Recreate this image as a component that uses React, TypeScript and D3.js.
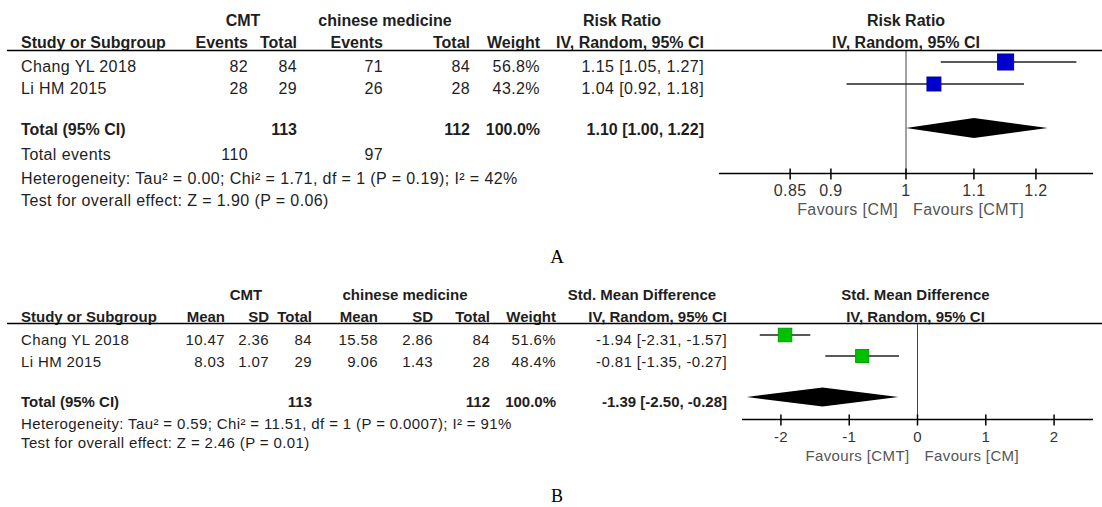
import React from "react";
import * as d3 from "d3";

// ---- panel A : Risk Ratio ----
const studiesA = ["Chang YL 2018", "Li HM 2015"];
const cmtEventsA = [82, 28];
const cmtTotalA = [84, 29];
const cmEventsA = [71, 26];
const cmTotalA = [84, 28];
const weightA = [56.8, 43.2];
const rrA = [1.15, 1.04];
const rrLowA = [1.05, 0.92];
const rrHighA = [1.27, 1.18];
const totalA = { cmt: 113, cm: 112, est: 1.1, low: 1.0, high: 1.22, label: "1.10 [1.00, 1.22]" };
const totalEventsA = [110, 97];
const ticksA = [0.85, 0.9, 1, 1.1, 1.2];
const hetA = "Heterogeneity: Tau\u00b2 = 0.00; Chi\u00b2 = 1.71, df = 1 (P = 0.19); I\u00b2 = 42%";
const testA = "Test for overall effect: Z = 1.90 (P = 0.06)";

// ---- panel B : Std. Mean Difference ----
const studiesB = ["Chang YL 2018", "Li HM 2015"];
const cmtMeanB = [10.47, 8.03];
const cmtSdB = [2.36, 1.07];
const cmtTotalB = [84, 29];
const cmMeanB = [15.58, 9.06];
const cmSdB = [2.86, 1.43];
const cmTotalB = [84, 28];
const weightB = [51.6, 48.4];
const smdB = [-1.94, -0.81];
const smdLowB = [-2.31, -1.35];
const smdHighB = [-1.57, -0.27];
const totalB = { cmt: 113, cm: 112, est: -1.39, low: -2.5, high: -0.28, label: "-1.39 [-2.50, -0.28]" };
const ticksB = [-2, -1, 0, 1, 2];
const hetB = "Heterogeneity: Tau\u00b2 = 0.59; Chi\u00b2 = 11.51, df = 1 (P = 0.0007); I\u00b2 = 91%";
const testB = "Test for overall effect: Z = 2.46 (P = 0.01)";

const FONT = "'Liberation Sans', Arial, sans-serif";
const INK = "#1e1e1e";

const T = ({ x, y, anchor = "start", bold = false, fill = INK, size = 16, children }: any) => (
  <text
    x={x}
    y={y}
    textAnchor={anchor}
    fontFamily={FONT}
    fontSize={size}
    fontWeight={bold ? "bold" : "normal"}
    letterSpacing={bold ? 0 : size * 0.025}
    fill={fill}
  >
    {children}
  </text>
);

const f2 = (v: number) => v.toFixed(2);
const ci = (e: number, l: number, h: number) => `${f2(e)} [${f2(l)}, ${f2(h)}]`;

const Diamond = ({ x, lo, hi, est, y, h }: any) => (
  <path
    d={`M${x(lo)},${y} L${x(est)},${y - h} L${x(hi)},${y} L${x(est)},${y + h} Z`}
    fill="#000"
  />
);

const Axis = ({ x, ticks, y, fmt, top, nullV, leftLabel, rightLabel, size }: any) => {
  const [r0, r1] = x.range();
  const x0 = x(nullV);
  return (
    <g>
      <line x1={x0} x2={x0} y1={top} y2={y} stroke="#444" strokeWidth={1} />
      <line x1={r0} x2={r1} y1={y} y2={y} stroke="#000" strokeWidth={1.5} />
      {ticks.map((t: number) => (
        <g key={t}>
          <line x1={x(t)} x2={x(t)} y1={y - 5} y2={y + 6} stroke="#000" strokeWidth={1.5} />
          <T x={x(t)} y={y + 22} anchor="middle" fill="#333" size={size}>{fmt(t)}</T>
        </g>
      ))}
      <T x={x0 - 8} y={y + 41} anchor="end" fill="#555" size={size}>{leftLabel}</T>
      <T x={x0 + 7} y={y + 41} fill="#555" size={size}>{rightLabel}</T>
    </g>
  );
};

export default function App() {
  // panel A scales
  const xA = d3.scaleLog().domain([1 / 1.3, 1.3]).range([719, 1093]);
  const sizeA = d3.scaleSqrt().domain([0, d3.max(weightA) as number]).range([0, 16]);
  const rowA = [62, 84];
  const baseA = [72, 94];

  // panel B scales
  const xB = d3.scaleLinear().domain([-2.57, 2.57]).range([742, 1093]);
  const sizeB = d3.scaleSqrt().domain([0, d3.max(weightB) as number]).range([0, 13.5]);
  const rowB = [335, 356];
  const baseB = [345, 367];
  const sB = 15;

  const colA = { ev1: 248, tot1: 297, ev2: 383, tot2: 470, w: 540, ci: 704 };
  const colB = { m1: 225, sd1: 269, tot1: 312, m2: 378, sd2: 433, tot2: 490, w: 556, ci: 727 };

  return (
    <svg
      width={1102}
      height={507}
      style={{ position: "absolute", left: 0, top: 0, background: "#fff" }}
    >
      {/* ================= A ================= */}
      <T x={243} y={26} anchor="middle" bold>CMT</T>
      <T x={385} y={26} anchor="middle" bold>chinese medicine</T>
      <T x={622} y={26} anchor="middle" bold>Risk Ratio</T>
      <T x={xA(1)} y={26} anchor="middle" bold>Risk Ratio</T>
      <T x={21} y={48} bold>Study or Subgroup</T>
      <T x={colA.ev1} y={48} anchor="end" bold>Events</T>
      <T x={colA.tot1} y={48} anchor="end" bold>Total</T>
      <T x={colA.ev2} y={48} anchor="end" bold>Events</T>
      <T x={colA.tot2} y={48} anchor="end" bold>Total</T>
      <T x={colA.w} y={48} anchor="end" bold>Weight</T>
      <T x={colA.ci} y={48} anchor="end" bold>IV, Random, 95% CI</T>
      <T x={xA(1)} y={48} anchor="middle" bold>IV, Random, 95% CI</T>
      <line x1={7} x2={1102} y1={50.5} y2={50.5} stroke="#000" strokeWidth={1.5} />

      {studiesA.map((s, i) => (
        <g key={s}>
          <T x={21} y={baseA[i]}>{s}</T>
          <T x={colA.ev1} y={baseA[i]} anchor="end">{cmtEventsA[i]}</T>
          <T x={colA.tot1} y={baseA[i]} anchor="end">{cmtTotalA[i]}</T>
          <T x={colA.ev2} y={baseA[i]} anchor="end">{cmEventsA[i]}</T>
          <T x={colA.tot2} y={baseA[i]} anchor="end">{cmTotalA[i]}</T>
          <T x={colA.w} y={baseA[i]} anchor="end">{weightA[i].toFixed(1)}%</T>
          <T x={colA.ci} y={baseA[i]} anchor="end">{ci(rrA[i], rrLowA[i], rrHighA[i])}</T>
        </g>
      ))}

      <T x={21} y={135} bold>Total (95% CI)</T>
      <T x={colA.tot1} y={135} anchor="end" bold>{totalA.cmt}</T>
      <T x={colA.tot2} y={135} anchor="end" bold>{totalA.cm}</T>
      <T x={colA.w} y={135} anchor="end" bold>100.0%</T>
      <T x={colA.ci} y={135} anchor="end" bold>{totalA.label}</T>
      <T x={21} y={160}>Total events</T>
      <T x={colA.ev1} y={160} anchor="end">{totalEventsA[0]}</T>
      <T x={colA.ev2} y={160} anchor="end">{totalEventsA[1]}</T>
      <T x={21} y={184}>{hetA}</T>
      <T x={21} y={206}>{testA}</T>

      <Axis
        x={xA}
        ticks={ticksA}
        y={173.5}
        top={51}
        nullV={1}
        size={16}
        fmt={(t: number) => String(t)}
        leftLabel="Favours [CM]"
        rightLabel="Favours [CMT]"
      />
      {studiesA.map((s, i) => {
        const sz = sizeA(weightA[i]);
        return (
          <g key={s}>
            <line x1={xA(rrLowA[i])} x2={xA(rrHighA[i])} y1={rowA[i]} y2={rowA[i]} stroke="#222" strokeWidth={1.5} />
            <rect x={xA(rrA[i]) - sz / 2} y={rowA[i] - sz / 2} width={sz} height={sz} fill="#0000cc" stroke="#0000a0" />
          </g>
        );
      })}
      <Diamond x={xA} lo={totalA.low} hi={totalA.high} est={totalA.est} y={128} h={10} />

      <text x={557} y={263} textAnchor="middle" fontFamily="'Liberation Serif', 'Times New Roman', serif" fontSize={19} fill="#000">A</text>

      {/* ================= B ================= */}
      <T x={246} y={300} anchor="middle" bold size={sB}>CMT</T>
      <T x={405} y={300} anchor="middle" bold size={sB}>chinese medicine</T>
      <T x={642} y={300} anchor="middle" bold size={sB}>Std. Mean Difference</T>
      <T x={xB(0) - 2} y={300} anchor="middle" bold size={sB}>Std. Mean Difference</T>
      <T x={21} y={322} bold size={sB}>Study or Subgroup</T>
      <T x={colB.m1} y={322} anchor="end" bold size={sB}>Mean</T>
      <T x={colB.sd1} y={322} anchor="end" bold size={sB}>SD</T>
      <T x={colB.tot1} y={322} anchor="end" bold size={sB}>Total</T>
      <T x={colB.m2} y={322} anchor="end" bold size={sB}>Mean</T>
      <T x={colB.sd2} y={322} anchor="end" bold size={sB}>SD</T>
      <T x={colB.tot2} y={322} anchor="end" bold size={sB}>Total</T>
      <T x={colB.w} y={322} anchor="end" bold size={sB}>Weight</T>
      <T x={colB.ci} y={322} anchor="end" bold size={sB}>IV, Random, 95% CI</T>
      <T x={xB(0) - 2} y={322} anchor="middle" bold size={sB}>IV, Random, 95% CI</T>
      <line x1={7} x2={1102} y1={323.5} y2={323.5} stroke="#000" strokeWidth={1.5} />

      {studiesB.map((s, i) => (
        <g key={s}>
          <T x={21} y={baseB[i]} size={sB}>{s}</T>
          <T x={colB.m1} y={baseB[i]} anchor="end" size={sB}>{f2(cmtMeanB[i])}</T>
          <T x={colB.sd1} y={baseB[i]} anchor="end" size={sB}>{f2(cmtSdB[i])}</T>
          <T x={colB.tot1} y={baseB[i]} anchor="end" size={sB}>{cmtTotalB[i]}</T>
          <T x={colB.m2} y={baseB[i]} anchor="end" size={sB}>{f2(cmMeanB[i])}</T>
          <T x={colB.sd2} y={baseB[i]} anchor="end" size={sB}>{f2(cmSdB[i])}</T>
          <T x={colB.tot2} y={baseB[i]} anchor="end" size={sB}>{cmTotalB[i]}</T>
          <T x={colB.w} y={baseB[i]} anchor="end" size={sB}>{weightB[i].toFixed(1)}%</T>
          <T x={colB.ci} y={baseB[i]} anchor="end" size={sB}>{ci(smdB[i], smdLowB[i], smdHighB[i])}</T>
        </g>
      ))}

      <T x={21} y={407} bold size={sB}>Total (95% CI)</T>
      <T x={colB.tot1} y={407} anchor="end" bold size={sB}>{totalB.cmt}</T>
      <T x={colB.tot2} y={407} anchor="end" bold size={sB}>{totalB.cm}</T>
      <T x={colB.w} y={407} anchor="end" bold size={sB}>100.0%</T>
      <T x={colB.ci} y={407} anchor="end" bold size={sB}>{totalB.label}</T>
      <T x={21} y={429} size={sB}>{hetB}</T>
      <T x={21} y={448} size={sB}>{testB}</T>

      <Axis
        x={xB}
        ticks={ticksB}
        y={419.5}
        top={324}
        nullV={0}
        size={sB}
        fmt={(t: number) => String(t)}
        leftLabel="Favours [CMT]"
        rightLabel="Favours [CM]"
      />
      {studiesB.map((s, i) => {
        const sz = sizeB(weightB[i]);
        return (
          <g key={s}>
            <line x1={xB(smdLowB[i])} x2={xB(smdHighB[i])} y1={rowB[i]} y2={rowB[i]} stroke="#222" strokeWidth={1.5} />
            <rect x={xB(smdB[i]) - sz / 2} y={rowB[i] - sz / 2} width={sz} height={sz} fill="#00c000" stroke="#00a000" />
          </g>
        );
      })}
      <Diamond x={xB} lo={totalB.low} hi={totalB.high} est={totalB.est} y={397} h={9.5} />

      <text x={557} y={502} textAnchor="middle" fontFamily="'Liberation Serif', 'Times New Roman', serif" fontSize={18} fill="#000">B</text>
    </svg>
  );
}
